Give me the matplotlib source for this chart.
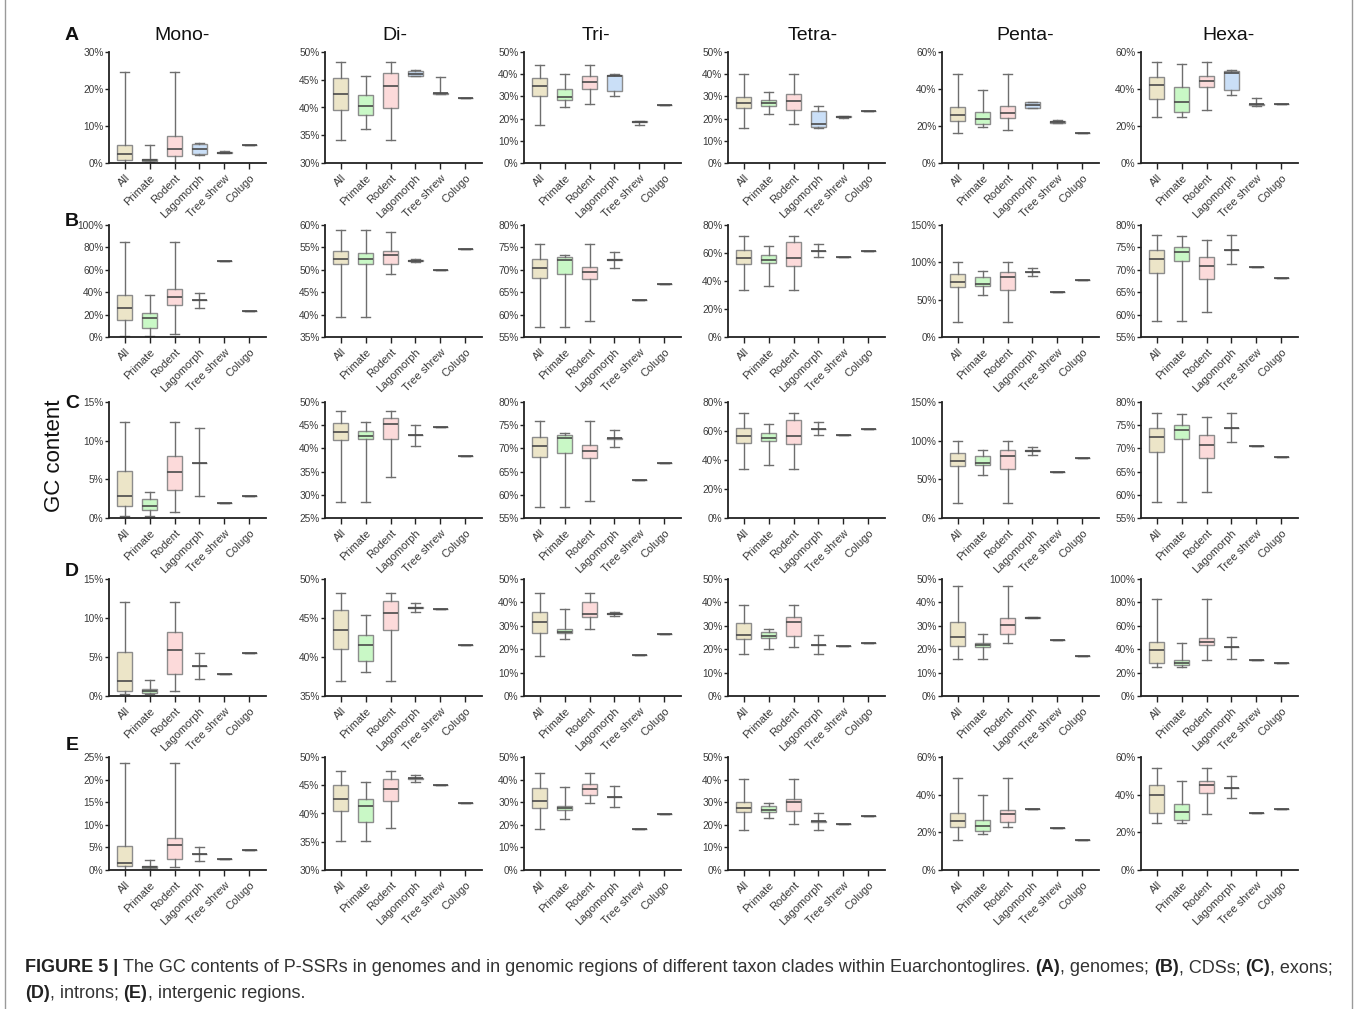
import matplotlib
matplotlib.use('Agg')
import matplotlib.pyplot as plt
from matplotlib.lines import Line2D
from matplotlib.ticker import MultipleLocator, FuncFormatter

# 分组名称
groups = ['All', 'Primate', 'Rodent', 'Lagomorph', 'Tree shrew', 'Colugo']
motifs = ['Mono-', 'Di-', 'Tri-', 'Tetra-', 'Penta-', 'Hexa-']
row_tags = ['A', 'B', 'C', 'D', 'E']

# 每组: [下须, Q1, 中位数, Q3, 上须] (GC %)
# (A) genomes
A_mono = [[0.0, 0.8, 2.4, 5.0, 24.7], [0.2, 0.5, 0.8, 1.2, 4.9], [0.0, 1.9, 3.7, 7.4, 24.7],
          [2.2, 2.4, 3.8, 5.2, 5.3], [2.6, 2.7, 2.8, 2.9, 3.3], [4.8, 4.8, 4.8, 4.8, 4.8]]
A_di = [[34.2, 39.6, 42.4, 45.4, 48.2], [36.2, 38.7, 40.3, 42.2, 45.6], [34.2, 39.9, 43.8, 46.3, 48.2],
        [45.6, 45.7, 46.0, 46.5, 46.8], [42.5, 42.5, 42.6, 42.6, 45.5], [41.8, 41.8, 41.8, 41.8, 41.8]]
A_tri = [[17.2, 30.2, 34.7, 38.2, 44.1], [25.2, 28.4, 29.8, 33.4, 40.1], [26.5, 33.5, 36.5, 39.1, 44.1],
         [30.0, 32.4, 39.2, 39.7, 39.9], [17.2, 18.3, 18.5, 18.7, 18.7], [26.1, 26.1, 26.1, 26.1, 26.1]]
A_tetra = [[15.8, 24.8, 27.1, 29.8, 40.0], [22.0, 25.9, 27.0, 28.6, 31.9], [17.6, 23.8, 28.1, 31.3, 40.0],
           [15.8, 16.2, 17.5, 23.5, 25.6], [20.4, 20.6, 20.8, 21.0, 21.0], [23.6, 23.6, 23.6, 23.6, 23.6]]
A_penta = [[16.2, 22.8, 25.9, 30.2, 48.1], [19.3, 20.9, 23.8, 27.6, 39.3], [17.8, 24.2, 26.8, 30.8, 48.1],
           [29.5, 29.8, 31.3, 32.8, 33.0], [21.5, 21.8, 22.2, 22.5, 23.2], [16.2, 16.2, 16.2, 16.2, 16.2]]
A_hexa = [[25.1, 34.5, 42.1, 46.5, 54.8], [25.1, 27.5, 33.0, 41.0, 53.5], [28.6, 41.0, 44.5, 47.0, 54.8],
          [36.5, 39.5, 48.6, 49.9, 50.3], [30.9, 31.3, 31.8, 32.0, 35.0], [31.9, 31.9, 31.9, 31.9, 31.9]]

# (B) CDSs
B_mono = [[0.5, 15.0, 25.5, 37.5, 84.5], [0.5, 8.0, 17.0, 21.0, 37.5], [3.0, 28.5, 35.5, 42.5, 84.5],
          [26.0, 32.8, 32.8, 32.8, 39.5], [68.0, 68.0, 68.0, 68.0, 68.0], [23.0, 23.0, 23.0, 23.0, 23.0]]
B_di = [[39.5, 51.2, 52.4, 54.1, 58.8], [39.5, 51.2, 52.3, 53.8, 58.8], [49.1, 51.2, 53.3, 54.2, 58.5],
        [51.8, 51.9, 52.0, 52.1, 52.3], [50.0, 50.0, 50.0, 50.0, 50.0], [54.7, 54.7, 54.7, 54.7, 54.7]]
B_tri = [[57.3, 68.1, 70.5, 72.4, 75.8], [57.3, 69.0, 72.2, 72.9, 73.4], [58.6, 67.9, 69.5, 70.7, 75.8],
         [70.3, 72.1, 72.2, 72.3, 73.9], [63.2, 63.2, 63.2, 63.2, 63.2], [66.8, 66.8, 66.8, 66.8, 66.8]]
B_tetra = [[33.5, 51.8, 56.5, 61.8, 72.3], [36.5, 53.2, 55.3, 58.7, 64.8], [33.5, 50.8, 56.5, 67.8, 72.3],
           [57.0, 61.5, 61.5, 61.5, 66.2], [57.5, 57.5, 57.5, 57.5, 57.5], [61.2, 61.2, 61.2, 61.2, 61.2]]
B_penta = [[19.5, 67.5, 73.5, 84.0, 100.0], [56.0, 68.0, 70.5, 80.0, 88.0], [19.5, 63.5, 80.0, 87.5, 100.0],
           [81.5, 86.5, 87.0, 87.5, 92.0], [60.0, 60.0, 60.0, 60.0, 60.0], [77.0, 77.0, 77.0, 77.0, 77.0]]
B_hexa = [[58.5, 69.2, 72.5, 74.5, 77.7], [58.5, 72.0, 74.0, 75.0, 77.5], [60.6, 68.0, 70.8, 72.9, 76.7],
          [71.4, 74.5, 74.5, 74.5, 77.7], [70.6, 70.6, 70.6, 70.6, 70.6], [68.2, 68.2, 68.2, 68.2, 68.2]]

# (C) exons
C_mono = [[0.3, 1.6, 2.8, 6.1, 12.4], [0.3, 1.0, 1.5, 2.4, 3.3], [0.8, 3.6, 6.0, 8.0, 12.4],
          [2.8, 7.1, 7.1, 7.1, 11.6], [1.9, 1.9, 1.9, 1.9, 1.9], [2.8, 2.8, 2.8, 2.8, 2.8]]
C_di = [[28.5, 41.9, 43.5, 45.4, 48.0], [28.5, 42.0, 42.7, 43.8, 45.6], [33.8, 42.0, 45.3, 46.6, 48.0],
        [40.5, 42.8, 42.8, 42.8, 45.1], [44.6, 44.6, 44.6, 44.6, 44.6], [38.3, 38.3, 38.3, 38.3, 38.3]]
C_tri = [[57.3, 68.1, 70.5, 72.4, 75.8], [57.3, 69.0, 72.2, 72.9, 73.4], [58.6, 67.9, 69.5, 70.7, 75.8],
         [70.3, 72.1, 72.2, 72.3, 73.9], [63.2, 63.2, 63.2, 63.2, 63.2], [66.8, 66.8, 66.8, 66.8, 66.8]]
C_tetra = [[33.5, 51.8, 56.5, 61.8, 72.3], [36.5, 53.2, 55.3, 58.7, 64.8], [33.5, 50.8, 56.5, 67.8, 72.3],
           [57.0, 61.5, 61.5, 61.5, 66.2], [57.5, 57.5, 57.5, 57.5, 57.5], [61.2, 61.2, 61.2, 61.2, 61.2]]
C_penta = [[19.5, 67.5, 73.5, 84.0, 100.0], [56.0, 68.0, 70.5, 80.0, 88.0], [19.5, 63.5, 80.0, 87.5, 100.0],
           [81.5, 86.5, 87.0, 87.5, 92.0], [60.0, 60.0, 60.0, 60.0, 60.0], [77.0, 77.0, 77.0, 77.0, 77.0]]
C_hexa = [[58.5, 69.2, 72.5, 74.5, 77.7], [58.5, 72.0, 74.0, 75.0, 77.5], [60.6, 68.0, 70.8, 72.9, 76.7],
          [71.4, 74.5, 74.5, 74.5, 77.7], [70.6, 70.6, 70.6, 70.6, 70.6], [68.2, 68.2, 68.2, 68.2, 68.2]]

# (D) introns
D_mono = [[0.2, 0.7, 1.9, 5.7, 12.0], [0.2, 0.4, 0.6, 0.9, 2.0], [0.6, 2.8, 5.9, 8.2, 12.0],
          [2.2, 3.9, 3.9, 3.9, 5.5], [2.8, 2.8, 2.8, 2.8, 2.8], [5.5, 5.5, 5.5, 5.5, 5.5]]
D_di = [[36.9, 41.0, 43.5, 46.0, 48.2], [38.1, 39.5, 41.5, 42.8, 45.4], [36.9, 43.5, 45.6, 47.2, 48.2],
        [45.8, 46.3, 46.3, 46.4, 46.9], [46.1, 46.1, 46.1, 46.1, 46.1], [41.6, 41.6, 41.6, 41.6, 41.6]]
D_tri = [[17.2, 27.0, 31.6, 36.1, 44.1], [24.5, 26.8, 27.3, 28.5, 37.0], [28.6, 33.8, 35.1, 40.2, 44.1],
         [34.2, 35.0, 35.2, 35.4, 35.9], [17.4, 17.4, 17.4, 17.4, 17.4], [26.3, 26.3, 26.3, 26.3, 26.3]]
D_tetra = [[17.8, 24.5, 26.2, 31.2, 39.1], [19.9, 24.6, 25.8, 27.3, 28.6], [20.8, 25.7, 31.6, 33.8, 39.1],
           [17.9, 21.9, 21.9, 22.0, 26.0], [21.3, 21.3, 21.3, 21.3, 21.3], [22.6, 22.6, 22.6, 22.6, 22.6]]
D_penta = [[15.6, 21.3, 25.2, 31.6, 46.9], [15.6, 20.9, 21.8, 22.8, 26.6], [22.7, 26.6, 30.3, 33.2, 46.9],
           [33.2, 33.4, 33.5, 33.6, 33.7], [23.8, 23.8, 23.8, 23.8, 23.8], [16.9, 16.9, 16.9, 16.9, 16.9]]
D_hexa = [[24.5, 28.5, 39.0, 46.5, 83.0], [24.5, 26.5, 28.5, 31.0, 45.0], [30.8, 43.5, 46.5, 49.5, 83.0],
          [31.5, 41.5, 41.5, 41.5, 50.5], [30.8, 30.8, 30.8, 30.8, 30.8], [28.2, 28.2, 28.2, 28.2, 28.2]]

# (E) intergenic regions
E_mono = [[0.1, 0.9, 1.6, 5.2, 23.6], [0.1, 0.4, 0.7, 0.9, 2.2], [0.6, 2.5, 5.6, 7.0, 23.6],
          [2.0, 3.6, 3.6, 3.6, 5.0], [2.5, 2.5, 2.5, 2.5, 2.5], [4.5, 4.5, 4.5, 4.5, 4.5]]
E_di = [[35.1, 40.4, 42.5, 45.0, 47.5], [35.1, 38.5, 41.3, 42.5, 45.6], [37.4, 42.3, 44.4, 46.1, 47.5],
        [45.6, 46.1, 46.2, 46.3, 46.8], [45.1, 45.1, 45.1, 45.1, 45.1], [41.8, 41.8, 41.8, 41.8, 41.8]]
E_tri = [[18.0, 27.4, 30.5, 36.2, 42.9], [22.4, 26.5, 27.3, 28.3, 36.8], [29.8, 33.0, 36.0, 38.2, 42.9],
         [27.7, 32.5, 32.5, 32.5, 37.3], [18.0, 18.0, 18.0, 18.0, 18.0], [24.8, 24.8, 24.8, 24.8, 24.8]]
E_tetra = [[17.9, 25.5, 27.3, 29.9, 40.3], [22.9, 25.5, 26.5, 28.3, 29.5], [20.4, 26.0, 30.0, 31.5, 40.3],
           [17.9, 21.4, 21.5, 21.6, 25.4], [20.3, 20.3, 20.3, 20.3, 20.3], [23.8, 23.8, 23.8, 23.8, 23.8]]
E_penta = [[15.8, 22.8, 25.9, 30.5, 48.6], [19.3, 20.8, 23.5, 26.8, 39.8], [22.6, 25.6, 29.6, 32.0, 48.6],
           [32.4, 32.4, 32.4, 32.4, 32.4], [22.5, 22.5, 22.5, 22.5, 22.5], [16.0, 16.0, 16.0, 16.0, 16.0]]
E_hexa = [[24.8, 30.2, 39.6, 45.0, 54.0], [24.8, 26.6, 30.7, 35.3, 47.5], [29.8, 41.0, 45.0, 47.5, 54.0],
          [38.0, 43.8, 43.8, 43.8, 50.0], [30.4, 30.4, 30.4, 30.4, 30.4], [32.6, 32.6, 32.6, 32.6, 32.6]]

# y轴范围: (下限, 上限, 刻度间隔)
A_ylim = [(0, 30, 10), (30, 50, 5), (0, 50, 10), (0, 50, 10), (0, 60, 20), (0, 60, 20)]
B_ylim = [(0, 100, 20), (35, 60, 5), (55, 80, 5), (0, 80, 20), (0, 150, 50), (55, 80, 5)]
C_ylim = [(0, 15, 5), (25, 50, 5), (55, 80, 5), (0, 80, 20), (0, 150, 50), (55, 80, 5)]
D_ylim = [(0, 15, 5), (35, 50, 5), (0, 50, 10), (0, 50, 10), (0, 50, 10), (0, 100, 20)]
E_ylim = [(0, 25, 5), (30, 50, 5), (0, 50, 10), (0, 50, 10), (0, 60, 20), (0, 60, 20)]

panels = [
    [A_mono, A_di, A_tri, A_tetra, A_penta, A_hexa],
    [B_mono, B_di, B_tri, B_tetra, B_penta, B_hexa],
    [C_mono, C_di, C_tri, C_tetra, C_penta, C_hexa],
    [D_mono, D_di, D_tri, D_tetra, D_penta, D_hexa],
    [E_mono, E_di, E_tri, E_tetra, E_penta, E_hexa],
]
ylims = [A_ylim, B_ylim, C_ylim, D_ylim, E_ylim]

face_colors = ['#ece5c8', '#c9f8c6', '#fcdada', '#cadff7', '#d9d9d9', '#d9d9d9']

FONT = ['Liberation Sans', 'DejaVu Sans']
plt.rcParams['font.family'] = FONT

W, H = 1358, 1009
fig = plt.figure(figsize=(W / 100, H / 100), dpi=100)

# 子图位置(像素)
col_left = [109, 325, 524, 728, 942, 1141]
col_w = 157
row_top = [52, 225, 402, 579, 757]
row_bot = [163, 337, 518, 696, 870]

pct = FuncFormatter(lambda v, p: f'{v:.0f}%')

for r in range(5):
    for c in range(6):
        x0 = col_left[c]
        ax = fig.add_axes([x0 / W, 1 - row_bot[r] / H, col_w / W, (row_bot[r] - row_top[r]) / H])
        stats = []
        for g, v in zip(groups, panels[r][c]):
            stats.append(dict(label=g, whislo=v[0], q1=v[1], med=v[2], q3=v[3], whishi=v[4], fliers=[]))
        bp = ax.bxp(stats, positions=range(1, 7), widths=0.62, capwidths=0.36,
                    patch_artist=True, showfliers=False,
                    boxprops=dict(edgecolor='#8c8c8c', linewidth=1.0),
                    medianprops=dict(color='#4a4a4a', linewidth=1.2),
                    whiskerprops=dict(color='#6e6e6e', linewidth=1.0),
                    capprops=dict(color='#6e6e6e', linewidth=1.0))
        for patch, fc in zip(bp['boxes'], face_colors):
            patch.set_facecolor(fc)
        lo, hi, step = ylims[r][c]
        ax.set_ylim(lo, hi)
        ax.set_xlim(0.37, 6.67)
        ax.yaxis.set_major_locator(MultipleLocator(step))
        ax.yaxis.set_major_formatter(pct)
        ax.set_xticks(range(1, 7))
        ax.set_xticklabels(groups, rotation=45, ha='right', rotation_mode='anchor', fontsize=8)
        ax.tick_params(axis='y', labelsize=7.3, length=3, width=1, pad=1, color='#222222', labelcolor='#3a3a3a')
        ax.tick_params(axis='x', length=4, width=1, pad=3, color='#222222', labelcolor='#3a3a3a')
        for s in ['top', 'right']:
            ax.spines[s].set_visible(False)
        for s in ['left', 'bottom']:
            ax.spines[s].set_linewidth(1.3)
            ax.spines[s].set_color('#222222')
        ax.set_facecolor('none')

# 列标题
title_x = [182, 395, 596, 813, 1025, 1228]
for m, tx in zip(motifs, title_x):
    fig.text(tx / W, 1 - 35 / H, m, ha='center', va='center', fontsize=14, color='#111111')

# 行标签
tag_y = [35, 222, 403, 571, 746]
for t, ty in zip(row_tags, tag_y):
    fig.text(72 / W, 1 - ty / H, t, ha='center', va='center', fontsize=14, fontweight='bold',
             color='#111111')

fig.text(55 / W, 1 - 456 / H, 'GC content', rotation=90, ha='center', va='center',
         fontsize=16, color='#111111')

# 图注
renderer = fig.canvas.get_renderer()
cap_fs = 13


def text_width(s, weight):
    t = fig.text(0, 0, s, fontsize=cap_fs, fontweight=weight)
    w = t.get_window_extent(renderer).width
    t.remove()
    return w


space_w = text_width('a a', 'normal') - text_width('aa', 'normal')

line1 = [('FIGURE 5 |', 'bold'),
         ('The GC contents of P-SSRs in genomes and in genomic regions of different taxon clades within Euarchontoglires.', 'normal'),
         ('(A)', 'bold'), (', genomes;', 'normal'), ('(B)', 'bold'), (', CDSs;', 'normal'),
         ('(C)', 'bold'), (', exons;', 'normal')]
line2 = [('(D)', 'bold'), (', introns;', 'normal'), ('(E)', 'bold'), (', intergenic regions.', 'normal')]

for pieces, ly in [(line1, 968), (line2, 993)]:
    x = 25
    for i, (s, wgt) in enumerate(pieces):
        t = fig.text(x / W, 1 - ly / H, s, fontsize=cap_fs, fontweight=wgt, va='center', ha='left',
                     color='#222222' if wgt == 'bold' else '#333333')
        w = t.get_window_extent(renderer).width
        x += w
        nxt = pieces[i + 1][0] if i + 1 < len(pieces) else ''
        if not nxt.startswith(','):
            x += space_w

# 外框
fig.add_artist(Line2D([5 / W, 5 / W], [0, 1], color='#9a9a9a', linewidth=1))
fig.add_artist(Line2D([1352 / W, 1352 / W], [0, 1], color='#9a9a9a', linewidth=1))

fig.savefig('out.png', dpi=100)
